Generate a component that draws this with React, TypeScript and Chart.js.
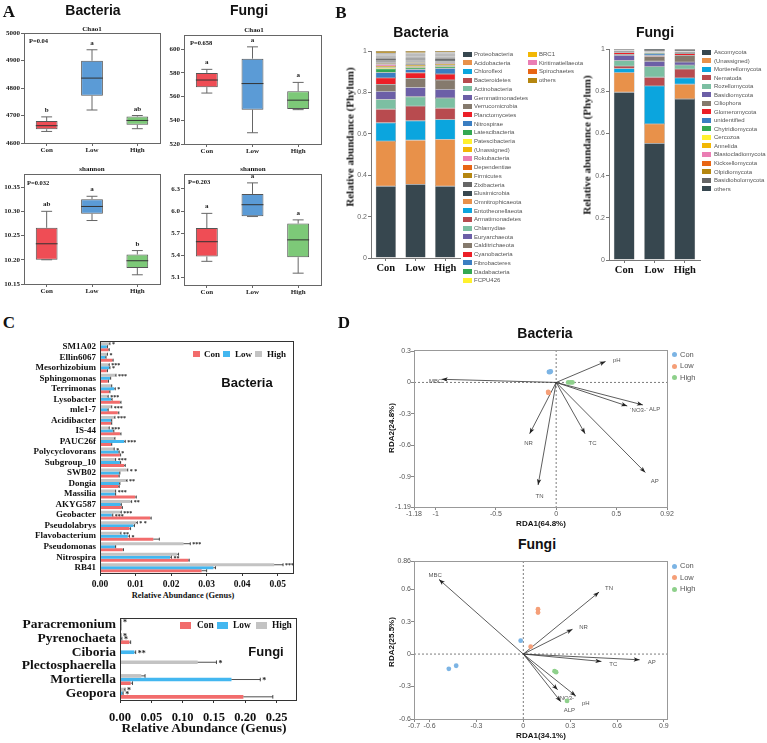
import React, { useEffect, useRef } from 'react';
import { Chart, registerables } from 'chart.js';

Chart.register(...registerables);

const SERIF = '"Liberation Serif", "Times New Roman", serif';
const SANS = '"Liberation Sans", Arial, sans-serif';

// ---------------- Panel A : alpha diversity box plots ----------------
const groups = ['Con', 'Low', 'High'];
const boxFill = ['#EF4D55', '#5B9BD6', '#7DC978'];

const bacChao1Min = [4642, 4720, 4652];
const bacChao1Q1 = [4650, 4772, 4666];
const bacChao1Median = [4663, 4836, 4682];
const bacChao1Q3 = [4680, 4899, 4696];
const bacChao1Max = [4695, 4939, 4700];
const bacChao1Letters = ['b', 'a', 'ab'];
const bacChao1Ticks = [4600, 4700, 4800, 4900, 5000];

const funChao1Min = [563, 529.5, 549];
const funChao1Q1 = [568, 549, 549.5];
const funChao1Median = [574, 571, 557];
const funChao1Q3 = [580, 592, 564.5];
const funChao1Max = [583, 602, 572];
const funChao1Letters = ['a', 'a', 'a'];
const funChao1Ticks = [520, 540, 560, 580, 600];

const bacShanMin = [10.2, 10.281, 10.169];
const bacShanQ1 = [10.2, 10.295, 10.183];
const bacShanMedian = [10.233, 10.31, 10.198];
const bacShanQ3 = [10.266, 10.325, 10.211];
const bacShanMax = [10.3, 10.331, 10.219];
const bacShanLetters = ['ab', 'a', 'b'];
const bacShanTicks = [10.15, 10.2, 10.25, 10.3, 10.35];

const funShanMin = [5.32, 5.925, 5.16];
const funShanQ1 = [5.385, 5.93, 5.375];
const funShanMedian = [5.585, 6.085, 5.61];
const funShanQ3 = [5.77, 6.23, 5.83];
const funShanMax = [5.968, 6.38, 5.88];
const funShanLetters = ['a', 'a', 'a'];
const funShanTicks = [5.1, 5.4, 5.7, 6.0, 6.3];

// ---------------- Panel B : phylum composition ----------------
const phylumPalette = ['#37474F', '#E8914A', '#0BA5DE', '#B84B4F', '#7CBFA2', '#6C5FA7', '#857A6D', '#EC1F27',
  '#3A7EC2', '#33A852', '#FFF12E', '#F2B705', '#EA7EB4', '#E86514', '#B5860F', '#666666'];

const bacPhyla = ['Proteobacteria', 'Acidobacteria', 'Chloroflexi', 'Bacteroidetes', 'Actinobacteria',
  'Gemmatimonadetes', 'Verrucomicrobia', 'Planctomycetes', 'Nitrospirae', 'Latescibacteria', 'Patescibacteria',
  '(Unassigned)', 'Rokubacteria', 'Dependentiae', 'Firmicutes', 'Zixibacteria', 'Elusimicrobia', 'Omnitrophicaeota',
  'Entotheonellaeota', 'Armatimonadetes', 'Chlamydiae', 'Euryarchaeota', 'Calditrichaeota', 'Cyanobacteria',
  'Fibrobacteres', 'Dadabacteria', 'FCPU426', 'BRC1', 'Kiritimatiellaeota', 'Spirochaetes', 'others'];
const bacConAbund = [0.347, 0.218, 0.088, 0.066, 0.047, 0.039, 0.034, 0.031, 0.026, 0.018, 0.006, 0.007, 0.008, 0.004,
  0.005, 0.004, 0.005, 0.004, 0.004, 0.004, 0.003, 0.003, 0.003, 0.003, 0.003, 0.002, 0.002, 0.002, 0.002, 0.002, 0.010];
const bacLowAbund = [0.356, 0.213, 0.094, 0.071, 0.045, 0.045, 0.044, 0.027, 0.016, 0.008, 0.006, 0.007, 0.004, 0.004,
  0.005, 0.004, 0.005, 0.004, 0.004, 0.004, 0.003, 0.003, 0.003, 0.003, 0.003, 0.002, 0.002, 0.002, 0.002, 0.002, 0.009];
const bacHighAbund = [0.347, 0.226, 0.096, 0.055, 0.049, 0.042, 0.045, 0.029, 0.027, 0.008, 0.006, 0.007, 0.004, 0.004,
  0.004, 0.003, 0.005, 0.004, 0.004, 0.004, 0.003, 0.003, 0.003, 0.003, 0.002, 0.002, 0.002, 0.002, 0.002, 0.002, 0.007];

const funPhyla = ['Ascomycota', '(Unassigned)', 'Mortierellomycota', 'Nematoda', 'Rozellomycota', 'Basidiomycota',
  'Ciliophora', 'Glomeromycota', 'unidentified', 'Chytridiomycota', 'Cercozoa', 'Annelida', 'Blastocladiomycota',
  'Kickxellomycota', 'Olpidiomycota', 'Basidiobolomycota', 'others'];
const funConAbund = [0.795, 0.093, 0.019, 0.012, 0.026, 0.025, 0.005, 0.008, 0.004, 0.003, 0.001, 0.001, 0.001, 0.001, 0.001, 0.002, 0.003];
const funLowAbund = [0.553, 0.092, 0.180, 0.041, 0.050, 0.026, 0.022, 0.005, 0.008, 0.005, 0.001, 0.002, 0.001, 0.001, 0.002, 0.006, 0.005];
const funHighAbund = [0.763, 0.070, 0.030, 0.042, 0.019, 0.014, 0.032, 0.008, 0.003, 0.004, 0.001, 0.001, 0.001, 0.001, 0.002, 0.005, 0.004];
const abundTicks = [0, 0.2, 0.4, 0.6, 0.8, 1];

// ---------------- Panel C : genus relative abundance ----------------
const colCon = '#F26C6C';
const colLow = '#43B7F0';
const colHigh = '#C3C3C3';

const bacGenera = ['SM1A02', 'Ellin6067', 'Mesorhizobium', 'Sphingomonas', 'Terrimonas', 'Lysobacter', 'mle1-7',
  'Acidibacter', 'IS-44', 'PAUC26f', 'Polycyclovorans', 'Subgroup_10', 'SWB02', 'Dongia', 'Massilia', 'AKYG587',
  'Geobacter', 'Pseudolabrys', 'Flavobacterium', 'Pseudomonas', 'Nitrospira', 'RB41'];
const bacConGenus = [0.0024, 0.0035, 0.0019, 0.0022, 0.0026, 0.0056, 0.0050, 0.0031, 0.0056, 0.0031, 0.0056, 0.0068,
  0.0052, 0.0052, 0.0099, 0.0061, 0.0141, 0.0083, 0.0150, 0.0064, 0.0249, 0.0286];
const bacLowGenus = [0.0019, 0.0015, 0.0026, 0.0028, 0.0040, 0.0031, 0.0021, 0.0031, 0.0036, 0.0068, 0.0052, 0.0056,
  0.0054, 0.0054, 0.0042, 0.0058, 0.0033, 0.0094, 0.0078, 0.0042, 0.0197, 0.0319];
const bacHighGenus = [0.0026, 0.0019, 0.0024, 0.0043, 0.0031, 0.0021, 0.0031, 0.0040, 0.0024, 0.0040, 0.0038, 0.0042,
  0.0075, 0.0073, 0.0042, 0.0086, 0.0056, 0.0101, 0.0056, 0.0235, 0.0216, 0.0490];
const bacConErr = [0.0002, 0.0002, 0.0002, 0.0002, 0.0002, 0.0003, 0.0003, 0.0002, 0.0003, 0.0002, 0.0002, 0.0003,
  0.0002, 0.0002, 0.0003, 0.0002, 0.0003, 0.0003, 0.0017, 0.0002, 0.0002, 0.0014];
const bacLowErr = [0.0002, 0.0002, 0.0002, 0.0002, 0.0003, 0.0003, 0.0002, 0.0002, 0.0003, 0.0003, 0.0002, 0.0002,
  0.0002, 0.0002, 0.0002, 0.0002, 0.0003, 0.0003, 0.0005, 0.0002, 0.0004, 0.0006];
const bacHighErr = [0.0002, 0.0002, 0.0002, 0.0002, 0.0002, 0.0002, 0.0002, 0.0002, 0.0002, 0.0002, 0.0002, 0.0002,
  0.0003, 0.0003, 0.0002, 0.0003, 0.0004, 0.0004, 0.0003, 0.0019, 0.0005, 0.0025];
const bacHighStars = ['*', '*', '***', '***', '', '***', '***', '***', '***', '', '*', '***', '* *', '**', '***', '**',
  '***', '* *', '**', '***', '', '***'];
const bacLowStars = ['', '', '*', '', '*', '', '', '', '', '***', '*', '', '', '', '', '', '***', '', '*', '', '**', ''];
const bacConStars = bacGenera.map(() => '');
const bacGenusTicks = [0, 0.01, 0.02, 0.03, 0.04, 0.05];

const funGenera = ['Paracremonium', 'Pyrenochaeta', 'Ciboria', 'Plectosphaerella', 'Mortierella', 'Geopora'];
const funConGenus = [0.001, 0.015, 0.0, 0.0, 0.017, 0.197];
const funLowGenus = [0.001, 0.002, 0.023, 0.0, 0.178, 0.004];
const funHighGenus = [0.001, 0.001, 0.0, 0.124, 0.034, 0.007];
const funConErr = [0.0005, 0.002, 0, 0, 0.003, 0.047];
const funLowErr = [0.0005, 0.001, 0.002, 0, 0.046, 0.001];
const funHighErr = [0.0005, 0.0005, 0, 0.030, 0.006, 0.001];
const funHighStars = ['*', '*', '', '*', '', '*'];
const funLowStars = ['', '*', '**', '', '*', '*'];
const funConStars = ['', '', '', '', '', ''];
const funGenusTicks = [0, 0.05, 0.1, 0.15, 0.2, 0.25];

// ---------------- Panel D : RDA ----------------
const rdaColors = ['#7CB4E4', '#F59F78', '#8ED08B'];
const rdaEnv = ['MBC', 'pH', 'ALP', '`NO3-`', 'TC', 'AP', 'NR', 'TN'];

const bacEnvX = [-0.95, 0.41, 0.72, 0.59, 0.24, 0.74, -0.22, -0.15];
const bacEnvY = [0.03, 0.20, -0.215, -0.225, -0.49, -0.86, -0.49, -0.98];
const bacConX = [-0.06, -0.05, -0.045];
const bacConY = [0.1, 0.1, 0.105];
const bacLowX = [-0.065, -0.063, -0.066];
const bacLowY = [-0.095, -0.1, -0.09];
const bacHighX = [0.1, 0.12, 0.135];
const bacHighY = [0, 0, 0];
const bacRdaXTicks = [-1.18, -1, -0.5, 0, 0.5, 0.92];
const bacRdaYTicks = [-1.19, -0.9, -0.6, -0.3, 0, 0.3];

const funEnvX = [-0.54, 0.336, 0.24, 0.22, 0.50, 0.745, 0.315, 0.485];
const funEnvY = [0.69, -0.387, -0.44, -0.33, -0.068, -0.053, 0.229, 0.573];
const funConX = [-0.017, -0.43, -0.477];
const funConY = [0.124, -0.108, -0.136];
const funLowX = [0.094, 0.094, 0.047];
const funLowY = [0.415, 0.384, 0.068];
const funHighX = [0.2, 0.21, 0.28];
const funHighY = [-0.158, -0.167, -0.433];
const funRdaXTicks = [-0.7, -0.6, -0.3, 0, 0.3, 0.6, 0.9];
const funRdaYTicks = [-0.6, -0.3, 0, 0.3, 0.6, 0.86];

// ---------------- helpers ----------------
type Rect = { cx: number; cy: number; cw: number; ch: number; l: number; t: number; r: number; b: number };

function fitArea(g: Rect) {
  return {
    padding: { left: 0, top: g.t - g.cy, right: g.cx + g.cw - g.r, bottom: 0 },
    fitY: (s: any) => { s.width = g.l - g.cx; },
    fitX: (s: any) => { s.height = g.cy + g.ch - g.b; },
  };
}

const fixedTicks = (vals: number[]) => (s: any) => { s.ticks = vals.map((v) => ({ value: v })); };

const baseOpts = { animation: false, responsive: false, devicePixelRatio: 1 };
const noPlugins = { legend: { display: false }, tooltip: { enabled: false } };

function framePlugin(color: string) {
  return {
    id: 'frame',
    afterDatasetsDraw(chart: any) {
      const { ctx, chartArea: a } = chart;
      ctx.save();
      ctx.strokeStyle = color;
      ctx.lineWidth = 1;
      ctx.strokeRect(Math.round(a.left) + 0.5, Math.round(a.top) + 0.5, Math.round(a.right - a.left), Math.round(a.bottom - a.top));
      ctx.restore();
    },
  };
}

function boxPlugin(mins: number[], meds: number[], maxs: number[], letters: string[]) {
  return {
    id: 'boxWhisker',
    afterDatasetsDraw(chart: any) {
      const { ctx } = chart;
      const ys = chart.scales.y;
      const meta = chart.getDatasetMeta(0);
      const ds = chart.data.datasets[0].data;
      const line = (x1: number, y1: number, x2: number, y2: number) => {
        ctx.beginPath(); ctx.moveTo(x1, y1); ctx.lineTo(x2, y2); ctx.stroke();
      };
      ctx.save();
      ctx.lineWidth = 1;
      meta.data.forEach((bar: any, i: number) => {
        const x = bar.x;
        const w = bar.width;
        const [q1, q3] = ds[i];
        const pMin = ys.getPixelForValue(mins[i]);
        const pMax = ys.getPixelForValue(maxs[i]);
        const pQ1 = ys.getPixelForValue(q1);
        const pQ3 = ys.getPixelForValue(q3);
        const pMed = ys.getPixelForValue(meds[i]);
        ctx.strokeStyle = '#666';
        if (pMax < pQ3 - 0.5) { line(x, pQ3, x, pMax); }
        line(x - w / 4, pMax, x + w / 4, pMax);
        if (pMin > pQ1 + 0.5) { line(x, pQ1, x, pMin); }
        line(x - w / 4, pMin, x + w / 4, pMin);
        ctx.strokeStyle = '#333';
        line(x - w / 2, pMed, x + w / 2, pMed);
        ctx.fillStyle = '#222';
        ctx.font = `bold 7px ${SERIF}`;
        ctx.textAlign = 'center';
        ctx.textBaseline = 'alphabetic';
        ctx.fillText(letters[i], x, pMax - 5);
      });
      ctx.restore();
    },
  };
}

function boxConfig(rect: Rect, mins: number[], q1: number[], meds: number[], q3: number[], maxs: number[],
  letters: string[], ticks: number[], yMin: number, yMax: number, dec: number) {
  const f = fitArea(rect);
  const tickFont = { family: SERIF, weight: 'bold', size: 7 };
  return {
    type: 'bar',
    data: {
      labels: groups,
      datasets: [{
        data: q1.map((v, i) => [v, q3[i]]),
        backgroundColor: boxFill,
        borderColor: '#555',
        borderWidth: 1,
        borderSkipped: false,
        barPercentage: 0.48,
        categoryPercentage: 1,
      }],
    },
    options: {
      ...baseOpts,
      layout: { padding: f.padding },
      plugins: noPlugins,
      scales: {
        x: {
          afterFit: f.fitX,
          grid: { drawOnChartArea: false, offset: false, tickLength: 3, color: '#666' },
          border: { display: false },
          ticks: { font: tickFont, color: '#222', padding: 0 },
        },
        y: {
          min: yMin, max: yMax,
          afterFit: f.fitY,
          afterBuildTicks: fixedTicks(ticks),
          grid: { drawOnChartArea: false, tickLength: 3, color: '#666' },
          border: { display: false },
          ticks: { font: tickFont, color: '#222', padding: 1, autoSkip: false, callback: (v: number) => v.toFixed(dec) },
        },
      },
    },
    plugins: [boxPlugin(mins, meds, maxs, letters), framePlugin('#666')],
  };
}

function stackConfig(rect: Rect, names: string[], con: number[], low: number[], high: number[]) {
  const f = fitArea(rect);
  return {
    type: 'bar',
    data: {
      labels: groups,
      datasets: names.map((n, i) => ({
        label: n,
        data: [con[i], low[i], high[i]],
        backgroundColor: phylumPalette[i % 16],
        borderColor: 'rgba(60,60,60,0.75)',
        borderWidth: 0.4,
        borderSkipped: false,
        barPercentage: 0.68,
        categoryPercentage: 1,
      })),
    },
    options: {
      ...baseOpts,
      layout: { padding: f.padding },
      plugins: noPlugins,
      scales: {
        x: {
          stacked: true,
          afterFit: f.fitX,
          grid: { drawOnChartArea: false, offset: false, tickLength: 3, color: '#777' },
          border: { color: '#777' },
          ticks: { font: { family: SERIF, weight: 'bold', size: 10.5 }, color: '#111', padding: 1 },
        },
        y: {
          stacked: true, min: 0, max: 1,
          afterFit: f.fitY,
          afterBuildTicks: fixedTicks(abundTicks),
          grid: { drawOnChartArea: false, tickLength: 3, color: '#777' },
          border: { color: '#777' },
          ticks: {
            font: { family: SANS, size: 7 }, color: '#666', padding: 1, autoSkip: false,
            callback: (v: number) => (v === 0 ? '0' : v === 1 ? '1' : v.toFixed(1)),
          },
        },
      },
    },
  };
}

function errPlugin(errs: number[][], stars: string[][], starSize: number) {
  return {
    id: 'errBars',
    afterDatasetsDraw(chart: any) {
      const { ctx } = chart;
      const xs = chart.scales.x;
      ctx.save();
      ctx.strokeStyle = '#222';
      ctx.fillStyle = '#222';
      ctx.lineWidth = 0.8;
      ctx.font = `bold ${starSize}px ${SERIF}`;
      ctx.textAlign = 'left';
      ctx.textBaseline = 'alphabetic';
      chart.data.datasets.forEach((ds: any, di: number) => {
        const meta = chart.getDatasetMeta(di);
        meta.data.forEach((bar: any, i: number) => {
          const v = ds.data[i];
          const e = errs[di][i];
          const x0 = xs.getPixelForValue(v);
          const x1 = xs.getPixelForValue(v + e);
          const h = bar.height;
          if (e > 0) {
            ctx.beginPath();
            ctx.moveTo(x0, bar.y); ctx.lineTo(x1, bar.y);
            ctx.moveTo(x1, bar.y - h / 2); ctx.lineTo(x1, bar.y + h / 2);
            ctx.stroke();
          }
          const s = stars[di][i];
          if (s) ctx.fillText(s, x1 + 2, bar.y + starSize * 0.45);
        });
      });
      ctx.restore();
    },
  };
}

function hbarConfig(rect: Rect, labels: string[], con: number[], low: number[], high: number[],
  errs: number[][], stars: string[][], xTicks: number[], xMax: number, labelSize: number, tickSize: number,
  tickPad: number, catPct: number, starSize: number) {
  const f = fitArea(rect);
  const mk = (label: string, data: number[], color: string) => ({
    label, data, backgroundColor: color, barPercentage: 1, categoryPercentage: catPct,
  });
  return {
    type: 'bar',
    data: { labels, datasets: [mk('High', high, colHigh), mk('Low', low, colLow), mk('Con', con, colCon)] },
    options: {
      ...baseOpts,
      indexAxis: 'y',
      layout: { padding: f.padding },
      plugins: noPlugins,
      scales: {
        x: {
          min: 0, max: xMax,
          afterFit: f.fitX,
          afterBuildTicks: fixedTicks(xTicks),
          grid: { drawOnChartArea: false, tickLength: 3, color: '#333' },
          border: { display: false },
          ticks: {
            autoSkip: false, maxRotation: 0,
            font: { family: SERIF, weight: 'bold', size: tickSize }, color: '#111', padding: tickPad,
            callback: (v: number) => v.toFixed(2),
          },
        },
        y: {
          afterFit: f.fitY,
          grid: { display: false, drawTicks: false },
          border: { display: false },
          ticks: { autoSkip: false, font: { family: SERIF, weight: 'bold', size: labelSize }, color: '#111', padding: 4 },
        },
      },
    },
    plugins: [errPlugin(errs, stars, starSize), framePlugin('#333')],
  };
}

function arrowPlugin(envX: number[], envY: number[]) {
  return {
    id: 'envArrows',
    beforeDatasetsDraw(chart: any) {
      const { ctx, chartArea: a } = chart;
      const xs = chart.scales.x;
      const ys = chart.scales.y;
      const ox = xs.getPixelForValue(0);
      const oy = ys.getPixelForValue(0);
      ctx.save();
      ctx.strokeStyle = '#444';
      ctx.lineWidth = 0.7;
      ctx.setLineDash([2, 2]);
      ctx.beginPath();
      ctx.moveTo(a.left, oy); ctx.lineTo(a.right, oy);
      ctx.moveTo(ox, a.top); ctx.lineTo(ox, a.bottom);
      ctx.stroke();
      ctx.setLineDash([]);
      ctx.lineWidth = 0.8;
      ctx.font = `6px ${SANS}`;
      ctx.textAlign = 'center';
      ctx.textBaseline = 'middle';
      rdaEnv.forEach((name, i) => {
        const tx = xs.getPixelForValue(envX[i]);
        const ty = ys.getPixelForValue(envY[i]);
        const ang = Math.atan2(ty - oy, tx - ox);
        const c = Math.cos(ang);
        const s = Math.sin(ang);
        ctx.strokeStyle = '#333';
        ctx.fillStyle = '#222';
        ctx.beginPath(); ctx.moveTo(ox, oy); ctx.lineTo(tx, ty); ctx.stroke();
        ctx.beginPath();
        ctx.moveTo(tx, ty);
        ctx.lineTo(tx - 6 * c + 2.2 * s, ty - 6 * s - 2.2 * c);
        ctx.lineTo(tx - 4.5 * c, ty - 4.5 * s);
        ctx.lineTo(tx - 6 * c - 2.2 * s, ty - 6 * s + 2.2 * c);
        ctx.closePath();
        ctx.fill();
        ctx.fillStyle = '#555';
        ctx.fillText(name, tx + 9 * c + 3, ty + 9 * s + 2);
      });
      ctx.restore();
    },
  };
}

function rdaConfig(rect: Rect, pts: number[][], envX: number[], envY: number[],
  xr: number[], yr: number[], xTicks: number[], yTicks: number[]) {
  const f = fitArea(rect);
  const tickFont = { family: SANS, size: 7 };
  return {
    type: 'scatter',
    data: {
      datasets: groups.map((g, k) => ({
        label: g,
        data: pts[2 * k].map((x, i) => ({ x, y: pts[2 * k + 1][i] })),
        backgroundColor: rdaColors[k],
        borderWidth: 0,
        pointRadius: 2.4,
      })),
    },
    options: {
      ...baseOpts,
      layout: { padding: f.padding },
      plugins: noPlugins,
      scales: {
        x: {
          type: 'linear', min: xr[0], max: xr[1],
          afterFit: f.fitX,
          afterBuildTicks: fixedTicks(xTicks),
          grid: { drawOnChartArea: false, tickLength: 3, color: '#888' },
          border: { display: false },
          ticks: { autoSkip: false, maxRotation: 0, font: tickFont, color: '#555', padding: 0, callback: (v: number) => String(v) },
        },
        y: {
          type: 'linear', min: yr[0], max: yr[1],
          afterFit: f.fitY,
          afterBuildTicks: fixedTicks(yTicks),
          grid: { drawOnChartArea: false, tickLength: 3, color: '#888' },
          border: { display: false },
          ticks: { autoSkip: false, font: tickFont, color: '#555', padding: 0, callback: (v: number) => String(v) },
        },
      },
    },
    plugins: [arrowPlugin(envX, envY), framePlugin('#999')],
  };
}

// ---------------- layout rects ----------------
const bacChao1Rect: Rect = { cx: 0, cy: 20, cw: 168, ch: 140, l: 24, r: 160, t: 33, b: 143 };
const funChao1Rect: Rect = { cx: 162, cy: 20, cw: 168, ch: 140, l: 184, r: 321, t: 35, b: 144 };
const bacShanRect: Rect = { cx: 0, cy: 160, cw: 168, ch: 140, l: 24, r: 160, t: 174, b: 284 };
const funShanRect: Rect = { cx: 162, cy: 160, cw: 168, ch: 140, l: 184, r: 321, t: 174, b: 285 };
const bacStackRect: Rect = { cx: 340, cy: 40, cw: 125, ch: 240, l: 371, r: 460, t: 51, b: 258 };
const funStackRect: Rect = { cx: 580, cy: 40, cw: 125, ch: 240, l: 609, r: 700, t: 49, b: 260 };
const bacGenusRect: Rect = { cx: 0, cy: 332, cw: 300, ch: 258, l: 100, r: 293, t: 340, b: 573 };
const funGenusRect: Rect = { cx: 0, cy: 606, cw: 305, ch: 120, l: 120, r: 296, t: 614, b: 700 };
const bacRdaRect: Rect = { cx: 390, cy: 342, cw: 290, ch: 180, l: 414, r: 667, t: 350, b: 507 };
const funRdaRect: Rect = { cx: 390, cy: 553, cw: 290, ch: 183, l: 414, r: 667, t: 561, b: 719 };

function ChartCanvas({ rect, make }: { rect: Rect; make: () => any }) {
  const ref = useRef<HTMLCanvasElement>(null);
  useEffect(() => {
    const chart = new Chart(ref.current as HTMLCanvasElement, make());
    return () => chart.destroy();
  }, []);
  return (
    <canvas
      ref={ref}
      width={rect.cw}
      height={rect.ch}
      style={{ position: 'absolute', left: rect.cx, top: rect.cy, width: rect.cw, height: rect.ch }}
    />
  );
}

type TProps = { x: number; y: number; s: string; size: number; font?: string; bold?: boolean; color?: string; align?: string; rot?: number };
function T({ x, y, s, size, font = SERIF, bold = true, color = '#111', align = 'center', rot = 0 }: TProps) {
  const tx = align === 'center' ? '-50%' : align === 'right' ? '-100%' : '0';
  return (
    <div
      style={{
        position: 'absolute', left: x, top: y, transform: `translate(${tx},-50%) rotate(${rot}deg)`,
        fontFamily: font, fontWeight: bold ? 'bold' : 'normal', fontSize: size, color, lineHeight: 1,
        whiteSpace: 'nowrap',
      }}
    >
      {s}
    </div>
  );
}

function Swatch({ x, y, w, h, color, round }: { x: number; y: number; w: number; h: number; color: string; round?: boolean }) {
  return (
    <div style={{ position: 'absolute', left: x, top: y - h / 2, width: w, height: h, background: color, borderRadius: round ? '50%' : 0 }} />
  );
}

export default function App() {
  return (
    <div style={{ position: 'absolute', left: 0, top: 0, width: 767, height: 743, background: '#fff', overflow: 'hidden' }}>
      {/* Panel A */}
      <ChartCanvas rect={bacChao1Rect} make={() => boxConfig(bacChao1Rect, bacChao1Min, bacChao1Q1, bacChao1Median, bacChao1Q3, bacChao1Max, bacChao1Letters, bacChao1Ticks, 4600, 5000, 0)} />
      <ChartCanvas rect={funChao1Rect} make={() => boxConfig(funChao1Rect, funChao1Min, funChao1Q1, funChao1Median, funChao1Q3, funChao1Max, funChao1Letters, funChao1Ticks, 520, 612, 0)} />
      <ChartCanvas rect={bacShanRect} make={() => boxConfig(bacShanRect, bacShanMin, bacShanQ1, bacShanMedian, bacShanQ3, bacShanMax, bacShanLetters, bacShanTicks, 10.15, 10.377, 2)} />
      <ChartCanvas rect={funShanRect} make={() => boxConfig(funShanRect, funShanMin, funShanQ1, funShanMedian, funShanQ3, funShanMax, funShanLetters, funShanTicks, 5.0, 6.5, 1)} />
      <T x={9} y={11} s="A" size={17} />
      <T x={93} y={10} s="Bacteria" size={14} font={SANS} />
      <T x={249} y={10} s="Fungi" size={14} font={SANS} />
      <T x={92} y={29} s="Chao1" size={7} />
      <T x={254} y={30} s="Chao1" size={7} />
      <T x={92} y={169} s="shannon" size={7} />
      <T x={253} y={169} s="shannon" size={7} />
      <T x={29} y={41} s="P=0.04" size={6.5} align="left" />
      <T x={190} y={43} s="P=0.658" size={6.5} align="left" />
      <T x={27} y={183} s="P=0.032" size={6.5} align="left" />
      <T x={188} y={182} s="P=0.203" size={6.5} align="left" />

      {/* Panel B */}
      <ChartCanvas rect={bacStackRect} make={() => stackConfig(bacStackRect, bacPhyla, bacConAbund, bacLowAbund, bacHighAbund)} />
      <ChartCanvas rect={funStackRect} make={() => stackConfig(funStackRect, funPhyla, funConAbund, funLowAbund, funHighAbund)} />
      <T x={341} y={12} s="B" size={17} />
      <T x={421} y={32} s="Bacteria" size={14} font={SANS} />
      <T x={655} y={32} s="Fungi" size={14} font={SANS} />
      <T x={350} y={137} s="Relative abundance (Phylum)" size={11} rot={-90} />
      <T x={587} y={145} s="Relative abundance (Phylum)" size={11} rot={-90} />
      {bacPhyla.map((n, i) => {
        const col = i < 27 ? 0 : 1;
        const row = col ? i - 27 : i;
        const x = col ? 528 : 463;
        const y = 54 + row * 8.7;
        return (
          <React.Fragment key={'bl' + i}>
            <Swatch x={x} y={y} w={9} h={5} color={phylumPalette[i % 16]} />
            <T x={x + 11} y={y} s={n} size={6} font={SANS} bold={false} color="#555" align="left" />
          </React.Fragment>
        );
      })}
      {funPhyla.map((n, i) => {
        const y = 52 + i * 8.54;
        return (
          <React.Fragment key={'fl' + i}>
            <Swatch x={702} y={y} w={9} h={5} color={phylumPalette[i % 16]} />
            <T x={714} y={y} s={n} size={6} font={SANS} bold={false} color="#555" align="left" />
          </React.Fragment>
        );
      })}

      {/* Panel C */}
      <ChartCanvas rect={bacGenusRect} make={() => hbarConfig(bacGenusRect, bacGenera, bacConGenus, bacLowGenus, bacHighGenus,
        [bacHighErr, bacLowErr, bacConErr], [bacHighStars, bacLowStars, bacConStars], bacGenusTicks, 0.0543, 9, 9.5, 3, 0.85, 6)} />
      <ChartCanvas rect={funGenusRect} make={() => hbarConfig(funGenusRect, funGenera, funConGenus, funLowGenus, funHighGenus,
        [funHighErr, funLowErr, funConErr], [funHighStars, funLowStars, funConStars], funGenusTicks, 0.281, 13.5, 12.5, 7, 0.8, 8)} />
      <T x={9} y={322} s="C" size={17} />
      <T x={183} y={596} s="Relative Abundance (Genus)" size={8.4} />
      <T x={204} y={728} s="Relative Abundance (Genus)" size={13.5} />
      <Swatch x={193} y={354} w={7} h={5.5} color={colCon} />
      <T x={204} y={354} s="Con" size={9} align="left" />
      <Swatch x={223} y={354} w={7} h={5.5} color={colLow} />
      <T x={235} y={354} s="Low" size={9} align="left" />
      <Swatch x={255} y={354} w={7} h={5.5} color={colHigh} />
      <T x={267} y={354} s="High" size={9} align="left" />
      <T x={247} y={382} s="Bacteria" size={13} font={SANS} />
      <Swatch x={180} y={625.5} w={10.5} h={6.5} color={colCon} />
      <T x={197} y={625.5} s="Con" size={9.4} align="left" />
      <Swatch x={217} y={625.5} w={10.5} h={6.5} color={colLow} />
      <T x={233} y={625.5} s="Low" size={9.4} align="left" />
      <Swatch x={256} y={625.5} w={10.5} h={6.5} color={colHigh} />
      <T x={272} y={625.5} s="High" size={9.4} align="left" />
      <T x={266} y={651} s="Fungi" size={13} font={SANS} />

      {/* Panel D */}
      <ChartCanvas rect={bacRdaRect} make={() => rdaConfig(bacRdaRect, [bacConX, bacConY, bacLowX, bacLowY, bacHighX, bacHighY],
        bacEnvX, bacEnvY, [-1.18, 0.92], [-1.19, 0.31], bacRdaXTicks, bacRdaYTicks)} />
      <ChartCanvas rect={funRdaRect} make={() => rdaConfig(funRdaRect, [funConX, funConY, funLowX, funLowY, funHighX, funHighY],
        funEnvX, funEnvY, [-0.7, 0.92], [-0.6, 0.86], funRdaXTicks, funRdaYTicks)} />
      <T x={344} y={322} s="D" size={17} />
      <T x={545} y={333} s="Bacteria" size={14} font={SANS} />
      <T x={537} y={544} s="Fungi" size={14} font={SANS} />
      <T x={541} y={524} s="RDA1(64.8%)" size={8} font={SANS} />
      <T x={392} y={428} s="RDA2(24.8%)" size={8} font={SANS} rot={-90} />
      <T x={541} y={736} s="RDA1(34.1%)" size={8} font={SANS} />
      <T x={392} y={642} s="RDA2(25.5%)" size={8} font={SANS} rot={-90} />
      {groups.map((g, k) => (
        <React.Fragment key={'dl' + k}>
          <Swatch x={671.5} y={354.5 + k * 11.5} w={5} h={5} color={rdaColors[k]} round />
          <T x={680} y={354.5 + k * 11.5} s={g} size={7.5} font={SANS} bold={false} color="#555" align="left" />
          <Swatch x={671.5} y={566 + k * 11.5} w={5} h={5} color={rdaColors[k]} round />
          <T x={680} y={566 + k * 11.5} s={g} size={7.5} font={SANS} bold={false} color="#555" align="left" />
        </React.Fragment>
      ))}
    </div>
  );
}
